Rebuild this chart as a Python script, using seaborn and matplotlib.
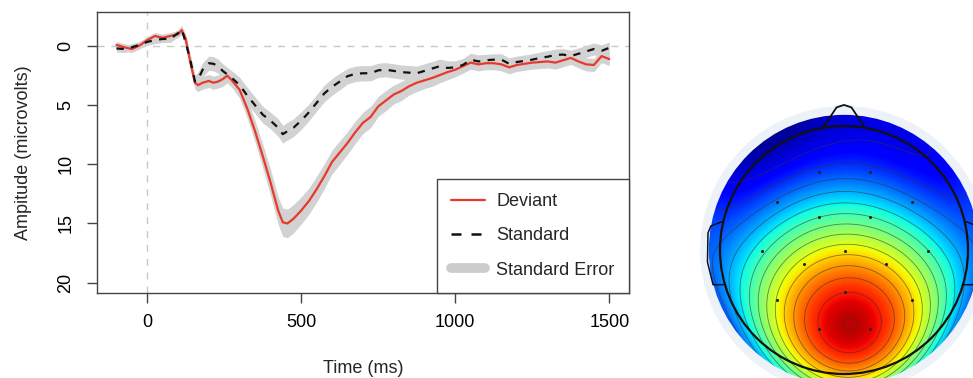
import numpy as np
import pandas as pd
import matplotlib
matplotlib.use("Agg")
import matplotlib.pyplot as plt
from matplotlib.lines import Line2D
from matplotlib.patches import Circle
import seaborn as sns

# --- ERP waveforms (microvolts) ---
time_ms = [-100, -75, -50, -25, 0, 25, 50, 75, 100, 112, 125, 140, 155, 165, 180,
           200, 215, 230, 245, 260, 275, 300, 325, 350, 375, 400, 425, 440, 455, 475,
           500, 525, 550, 575, 600, 625, 650, 675, 700, 725, 750, 775, 800, 825, 850,
           875, 900, 925, 950, 975, 1000, 1025, 1050, 1075, 1100, 1125, 1150, 1175, 1200, 1225,
           1250, 1275, 1300, 1325, 1350, 1375, 1400, 1425, 1450, 1475, 1500]

deviant_uv = [-0.1, 0.1, 0.25, -0.05, -0.5, -0.85, -0.7, -0.85, -1.0, -1.35, -0.6, 1.4, 3.1, 3.3, 3.1,
              2.95, 3.1, 3.0, 2.8, 2.5, 2.9, 3.7, 5.3, 7.2, 9.3, 11.5, 13.9, 14.9, 15.0, 14.6,
              13.9, 13.1, 12.1, 11.0, 9.8, 9.0, 8.2, 7.3, 6.5, 6.0, 5.1, 4.6, 4.1, 3.8, 3.4,
              3.1, 2.9, 2.7, 2.45, 2.2, 2.0, 1.7, 1.4, 1.55, 1.45, 1.45, 1.55, 1.8, 1.6, 1.5,
              1.4, 1.35, 1.3, 1.4, 1.2, 1.0, 1.3, 1.55, 1.6, 0.85, 1.1]

standard_uv = [0.2, 0.25, 0.1, -0.1, -0.35, -0.5, -0.6, -0.6, -1.1, -1.4, -0.3, 1.2, 3.0, 2.8, 2.0,
               1.45, 1.5, 1.7, 2.1, 2.4, 2.7, 3.3, 4.2, 5.0, 5.8, 6.3, 6.9, 7.45, 7.2, 6.9,
               6.3, 5.6, 4.8, 4.0, 3.45, 3.0, 2.55, 2.35, 2.3, 2.3, 2.05, 2.0, 2.1, 2.2, 2.25,
               2.3, 2.1, 1.9, 1.7, 1.85, 1.8, 1.6, 1.15, 1.3, 1.2, 1.15, 1.15, 1.5, 1.35, 1.25,
               1.15, 1.0, 0.9, 0.75, 0.72, 0.85, 0.65, 0.45, 0.25, 0.4, 0.15]

deviant_se = [0.3, 0.3, 0.3, 0.3, 0.3, 0.3, 0.3, 0.3, 0.3, 0.35, 0.4, 0.5, 0.55, 0.55, 0.55,
              0.55, 0.55, 0.55, 0.6, 0.6, 0.6, 0.7, 0.8, 0.9, 1.0, 1.1, 1.15, 1.2, 1.2, 1.2,
              1.15, 1.1, 1.1, 1.05, 1.0, 1.0, 0.95, 0.95, 0.9, 0.9, 0.85, 0.85, 0.8, 0.8, 0.75,
              0.75, 0.7, 0.7, 0.65, 0.65, 0.6, 0.6, 0.55, 0.55, 0.55, 0.55, 0.55, 0.55, 0.55, 0.55,
              0.55, 0.55, 0.55, 0.55, 0.55, 0.55, 0.55, 0.55, 0.55, 0.55, 0.55]

standard_se = [0.3, 0.3, 0.3, 0.3, 0.3, 0.3, 0.3, 0.3, 0.3, 0.35, 0.4, 0.5, 0.55, 0.6, 0.6,
               0.6, 0.6, 0.6, 0.6, 0.6, 0.6, 0.65, 0.7, 0.7, 0.7, 0.7, 0.75, 0.75, 0.75, 0.75,
               0.75, 0.7, 0.7, 0.7, 0.7, 0.7, 0.65, 0.65, 0.65, 0.65, 0.6, 0.6, 0.6, 0.6, 0.6,
               0.6, 0.6, 0.6, 0.6, 0.6, 0.55, 0.55, 0.55, 0.55, 0.5, 0.5, 0.5, 0.5, 0.5, 0.5,
               0.5, 0.5, 0.5, 0.5, 0.5, 0.5, 0.5, 0.5, 0.5, 0.5, 0.5]

x_ticks = [0, 500, 1000, 1500]
y_ticks = [0, 5, 10, 15, 20]

# --- scalp map: electrode sites (unit head radius) and map level (0-1 on jet) ---
elec_x = [-0.20, 0.21, -0.54, 0.55, -0.20, 0.21, -0.66, 0.01, 0.68, -0.32, 0.34, -0.54, 0.01, 0.55, -0.20, 0.21]
elec_y = [0.63, 0.63, 0.39, 0.39, 0.27, 0.27, -0.01, -0.01, -0.01, -0.11, -0.11, -0.40, -0.34, -0.40, -0.64, -0.64]
elec_val = [0.21, 0.22, 0.26, 0.28, 0.36, 0.37, 0.42, 0.66, 0.44, 0.70, 0.72, 0.62, 0.89, 0.64, 0.92, 0.92]

# extra samples (profiles through the map)
extra_x = [0.0, 0.0, 0.0, 0.0, 0.0, 0.0, 0.0, 0.0,
           -0.90, -0.76, -0.62, -0.40, -0.19, 0.24, 0.40, 0.50, 0.72, 0.90,
           -0.85, -0.45, -0.25, 0.25, 0.45, 0.85,
           -0.90, -0.50, 0.0, 0.50, 0.90]
extra_y = [1.05, 0.85, 0.45, 0.14, -0.17, -0.50, -0.80, -1.00,
           -0.50, -0.50, -0.50, -0.50, -0.50, -0.50, -0.50, -0.50, -0.50, -0.50,
           0.0, 0.0, 0.0, 0.0, 0.0, 0.0,
           0.50, 0.50, 0.50, 0.50, 0.50]
extra_val = [0.06, 0.13, 0.28, 0.50, 0.78, 0.98, 0.84, 0.70,
             0.30, 0.38, 0.48, 0.72, 0.92, 0.93, 0.80, 0.74, 0.50, 0.33,
             0.32, 0.53, 0.62, 0.62, 0.54, 0.33,
             0.10, 0.20, 0.26, 0.23, 0.13]

# rim of the coloured disc
rim_angle_deg = [90, 60, 30, 0, -30, -60, -90, -120, -150, 180, 150, 120]
rim_val = [0.05, 0.08, 0.15, 0.22, 0.32, 0.50, 0.68, 0.48, 0.30, 0.17, 0.08, 0.05]

RED = "#e8392b"
SE_GREY = "#d2d2d2"
FRAME = "#444444"

sns.set_style("ticks")
plt.rcParams["font.family"] = ["Liberation Sans", "DejaVu Sans"]
plt.rcParams["font.size"] = 13

fig = plt.figure(figsize=(9.73, 3.78), dpi=100)

# ---------------- ERP panel ----------------
ax = fig.add_axes([96.7 / 973, 85 / 378, 532.3 / 973, 281 / 378])

n = len(time_ms)
df = pd.DataFrame({
    "time": time_ms * 2,
    "amp": deviant_uv + standard_uv,
    "se": deviant_se + standard_se,
    "cond": ["Deviant"] * n + ["Standard"] * n,
})

for cond in ["Deviant", "Standard"]:
    sub = df[df["cond"] == cond]
    ax.fill_between(sub["time"], sub["amp"] - sub["se"], sub["amp"] + sub["se"],
                    color=SE_GREY, lw=0, zorder=1)

ax.axhline(0, color="#c8c8c8", lw=1, ls=(0, (5, 5)), zorder=0)
ax.axvline(0, color="#c8c8c8", lw=1, ls=(0, (5, 5)), zorder=0)

sns.lineplot(data=df, x="time", y="amp", hue="cond", style="cond",
             palette={"Deviant": RED, "Standard": "#111111"},
             dashes={"Deviant": "", "Standard": (3.3, 3.3)},
             linewidth=1.6, legend=False, ax=ax, zorder=3)

ax.set_xlim(-164, 1564)
ax.set_ylim(20.88, -2.88)
ax.set_xticks(x_ticks)
ax.set_yticks(y_ticks)
ax.tick_params(axis="both", direction="out", length=7, width=1, color=FRAME,
               labelsize=13, labelcolor="black")
ax.tick_params(axis="x", pad=8)
ax.tick_params(axis="y", pad=9, labelrotation=90)
for lab in ax.get_yticklabels():
    lab.set_va("center")
for sp in ax.spines.values():
    sp.set_color(FRAME)
    sp.set_linewidth(1)

ax.set_xlabel("Time (ms)", fontsize=13, labelpad=21)
ax.set_ylabel("Ampitude (microvolts)", fontsize=13, labelpad=18)

handles = [
    Line2D([], [], color=RED, lw=1.6),
    Line2D([], [], color="#111111", lw=1.8, ls=(0, (4, 4))),
    Line2D([], [], color="#cccccc", lw=7, solid_capstyle="round"),
]
leg = ax.legend(handles, ["Deviant", "Standard", "Standard Error"], loc="lower right",
                borderaxespad=0, frameon=True, fancybox=False, framealpha=1,
                edgecolor=FRAME, fontsize=13, handlelength=1.9, handletextpad=0.6,
                labelspacing=0.95, borderpad=0.8)
leg.get_frame().set_linewidth(1)

# ---------------- scalp map panel ----------------
cx, cy, rad = 844, 250, 124
left_px, right_px, top_px, bot_px = 690, 1000, 90, 410
tax = fig.add_axes([left_px / 973, (378 - bot_px) / 378,
                    (right_px - left_px) / 973, (bot_px - top_px) / 378])

disc_r = 1.09
rim_x = [disc_r * np.cos(np.deg2rad(a)) for a in rim_angle_deg]
rim_y = [disc_r * np.sin(np.deg2rad(a)) for a in rim_angle_deg]
sx = np.array(elec_x + extra_x + rim_x)
sy = np.array(elec_y + extra_y + rim_y)
sv = np.array(elec_val + extra_val + rim_val)
# rim samples count less than the ones inside the head
w = np.array([1.0] * (len(elec_x) + len(extra_x)) + [0.4] * len(rim_x))

# smooth surface: weighted least-squares 2-D polynomial through the samples
DEG = 4
powers = [(i, j) for i in range(DEG + 1) for j in range(DEG + 1 - i)]


def design(x, y):
    return np.column_stack([x ** i * y ** j for i, j in powers])


coef, *_ = np.linalg.lstsq(design(sx, sy) * w[:, None], sv * w, rcond=None)

g = np.linspace(-1.15, 1.15, 320)
GX, GY = np.meshgrid(g, g)
Z = (design(GX.ravel(), GY.ravel()) @ coef).reshape(GX.shape)
Z = np.clip(Z, 0, 1)

tax.add_patch(Circle((0, 0), 1.16, color="#edf2f9", lw=0, zorder=0))
clip = Circle((0, 0), disc_r, transform=tax.transData)
im = tax.imshow(Z, extent=(g[0], g[-1], g[0], g[-1]), origin="lower", cmap="jet",
                vmin=0, vmax=1, interpolation="bilinear", zorder=1)
im.set_clip_path(clip)
cs = tax.contour(GX, GY, Z, levels=np.arange(0.10, 0.99, 0.065), colors="#333333",
                 linewidths=0.6, alpha=0.6, zorder=2)
cs.set_clip_path(clip)

tax.add_patch(Circle((0, 0), 1.0, fill=False, ec="#111111", lw=1.6, zorder=4))
nose_x = [-0.17, -0.06, 0.0, 0.06, 0.17]
nose_y = [0.985, 1.15, 1.17, 1.15, 0.985]
tax.plot(nose_x, nose_y, color="#111111", lw=1.3, zorder=4)
ear_x = [-0.986, -1.073, -1.097, -1.101, -1.056, -0.973]
ear_y = [0.228, 0.194, 0.137, -0.097, -0.28, -0.28]
tax.plot(ear_x, ear_y, color="#111111", lw=1.1, zorder=4)
tax.plot([-v for v in ear_x], ear_y, color="#111111", lw=1.1, zorder=4)
sns.scatterplot(x=elec_x, y=elec_y, color="#222222", s=5, linewidth=0, ax=tax, zorder=5)
tax.set_xlim((left_px - cx) / rad, (right_px - cx) / rad)
tax.set_ylim((cy - bot_px) / rad, (cy - top_px) / rad)
tax.axis("off")

fig.savefig("out.png", dpi=100)
